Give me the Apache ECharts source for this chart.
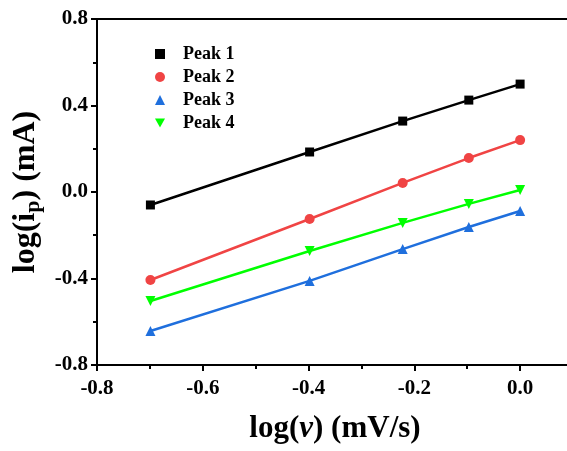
<!DOCTYPE html>
<html><head><meta charset="utf-8">
<script src="https://cdn.jsdelivr.net/npm/echarts@6/dist/echarts.min.js"></script>
<style>html,body{margin:0;padding:0;background:#fff}#c{width:567px;height:451px}</style>
</head><body><div id="c"></div>
<script>
const logV = [-0.699, -0.398, -0.222, -0.097, 0.0];
const peak1 = [-0.060, 0.185, 0.328, 0.425, 0.499];
const peak2 = [-0.407, -0.125, 0.042, 0.157, 0.240];
const peak3 = [-0.643, -0.411, -0.264, -0.162, -0.088];
const peak4 = [-0.504, -0.273, -0.143, -0.055, 0.009];
const seriesNames = ['Peak 1', 'Peak 2', 'Peak 3', 'Peak 4'];
const seriesColors = ['#000000', '#F04444', '#1F6FDD', '#00FF00'];
const invTri = 'path://M0,0 L10,0 L5,9 Z';
const symbols = ['rect', 'circle', 'triangle', invTri];
const allData = [peak1, peak2, peak3, peak4];

const font = '"Liberation Serif", "Times New Roman", serif';
const chart = echarts.init(document.getElementById('c'));
const series = allData.map((vals, i) => ({
  name: seriesNames[i], type: 'line',
  data: logV.map((x, j) => [x, vals[j]]),
  symbol: symbols[i], symbolSize: i === 0 ? 9 : 10,
  itemStyle: {color: seriesColors[i]},
  lineStyle: {color: seriesColors[i], width: 2.5},
  z: 3
}));
const axisBase = {
  axisLine: {show: true, onZero: false, lineStyle: {color: '#000', width: 2}},
  splitLine: {show: false}
};
chart.setOption({
  animation: false,
  grid: {left: 97, top: 19, bottom: 86, right: -6, outerBoundsMode: 'none', containLabel: false},
  legend: {
    orient: 'vertical', left: 150, top: 40, itemGap: 5,
    itemWidth: 10, itemHeight: 10,
    textStyle: {fontFamily: font, fontWeight: 'bold', fontSize: 18, color: '#000', padding: [0, 0, 0, 13]},
    data: seriesNames.map((n, i) => ({name: n, icon: symbols[i]}))
  },
  xAxis: [{
    type: 'value', min: -0.8, max: 0.1, interval: 0.2,
    ...axisBase,
    axisTick: {show: true, length: 6, lineStyle: {width: 2}},
    minorTick: {show: true, splitNumber: 2, length: 4, lineStyle: {color: '#000', width: 2}},
    axisLabel: {fontFamily: font, fontWeight: 'bold', fontSize: 21, color: '#000', margin: 13,
      formatter: v => (v > 0.05 ? '' : v.toFixed(1))},
    name: '{a|log(}{i|v}{a|) (mV/s)}', nameLocation: 'middle', nameGap: 48,
    nameTextStyle: {rich: {
      a: {fontFamily: font, fontWeight: 'bold', fontSize: 31, color: '#000'},
      i: {fontFamily: font, fontWeight: 'bold', fontStyle: 'italic', fontSize: 31, color: '#000'}
    }}
  }, {
    type: 'value', position: 'top', min: -0.8, max: 0.1,
    ...axisBase, axisTick: {show: false}, axisLabel: {show: false}
  }],
  yAxis: [{
    type: 'value', min: -0.8, max: 0.8, interval: 0.4,
    ...axisBase,
    axisTick: {show: true, length: 6, lineStyle: {width: 2}},
    minorTick: {show: true, splitNumber: 2, length: 4, lineStyle: {color: '#000', width: 2}},
    axisLabel: {fontFamily: font, fontWeight: 'bold', fontSize: 21, color: '#000', margin: 9,
      formatter: v => v.toFixed(1)},
    name: '{a|log(i}{s|p}{a|) (mA)}', nameLocation: 'middle', nameGap: 52,
    nameTextStyle: {rich: {
      a: {fontFamily: font, fontWeight: 'bold', fontSize: 32, color: '#000'},
      s: {fontFamily: font, fontWeight: 'bold', fontSize: 22, color: '#000', verticalAlign: 'bottom', padding: [15, 0, 0, 0]}
    }}
  }],
  series: series
});
</script></body></html>
